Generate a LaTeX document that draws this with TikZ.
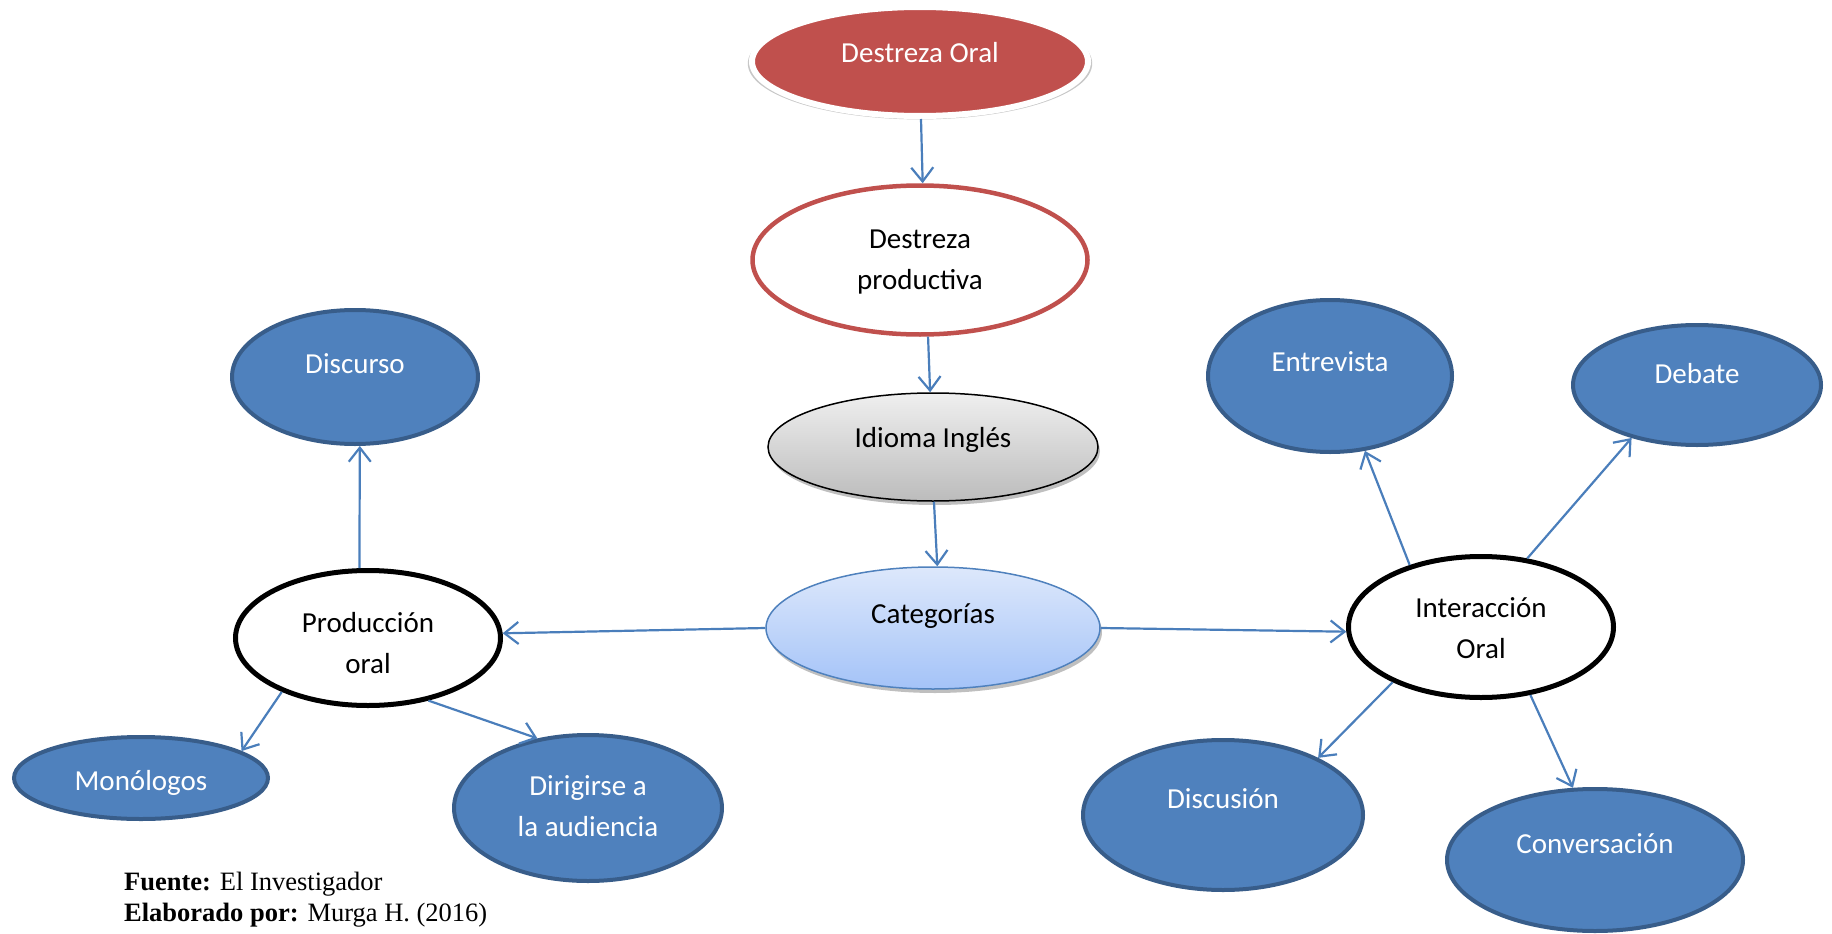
\documentclass[tikz,border=0pt]{standalone}
\usepackage{fontspec}
\setmainfont{Carlito}
\newfontfamily\timesf{Liberation Serif}
\usetikzlibrary{shapes.geometric,arrows.meta,shadows}
\definecolor{nblue}{HTML}{4F81BD}
\definecolor{bblue}{HTML}{385D8A}
\definecolor{ared}{HTML}{C0504D}
\definecolor{arrc}{HTML}{4A7EBB}
\definecolor{catTop}{HTML}{DDE8FB}
\definecolor{catBot}{HTML}{A4C3F8}
\definecolor{greyTop}{HTML}{EFEFEF}
\definecolor{greyBot}{HTML}{BCBCBC}
\begin{document}
\begin{tikzpicture}[x=1pt,y=-1pt,
 ell/.style={ellipse, inner sep=0pt},
 blueell/.style={ell, fill=nblue, draw=bblue, line width=4pt},
 blackell/.style={ell, fill=white, draw=black, line width=5pt},
 soft/.style={drop shadow={shadow xshift=2pt, shadow yshift=-4pt, opacity=.25, fill=black}},
 glow/.style={drop shadow={shadow xshift=0pt, shadow yshift=-2pt, shadow scale=1.025, opacity=.22, fill=black}},
 txt/.style={font=\fontsize{29}{41}\selectfont, anchor=base, inner sep=0pt},
 wtxt/.style={txt, text=white},
 conn/.style={draw=arrc, line width=2.2pt, -{Straight Barb[length=14pt,width=22pt]}},
]
\useasboundingbox (0,0) rectangle (1832,934);

% ellipses
\node[ell, glow, fill=ared, draw=white, line width=6pt, minimum width=336pt, minimum height=109pt] (oral) at (920,61.5) {};
\node[ell, fill=white, draw=ared, line width=4.5pt, minimum width=335pt, minimum height=149pt] (prod) at (920,260) {};
\node[ell, soft, top color=greyTop, bottom color=greyBot, draw=black, line width=1.5pt, minimum width=330pt, minimum height=108pt] (idioma) at (933,447) {};
\node[ell, soft, top color=catTop, bottom color=catBot, draw=nblue, line width=1.5pt, minimum width=334pt, minimum height=122pt] (cat) at (933,628) {};
\node[blackell, minimum width=265pt, minimum height=135pt] (prodoral) at (368,638) {};
\node[blackell, minimum width=265pt, minimum height=141pt] (inter) at (1481,627) {};
\node[blueell, minimum width=246pt, minimum height=134pt] (discurso) at (355,377) {};
\node[blueell, minimum width=254pt, minimum height=82pt] (monologos) at (141,778) {};
\node[blueell, minimum width=268pt, minimum height=146pt] (dirigirse) at (588,808) {};
\node[blueell, minimum width=244pt, minimum height=152pt] (entrevista) at (1330,376) {};
\node[blueell, minimum width=248pt, minimum height=120pt] (debate) at (1697,385) {};
\node[blueell, minimum width=280pt, minimum height=150pt] (discusion) at (1223,815) {};
\node[blueell, minimum width=296pt, minimum height=142pt] (conversacion) at (1595,860) {};

% texts
\node[wtxt] (t-oral) at (920,63) {Destreza Oral};
\node[txt] (t-prod) at (920,248) {\begin{tabular}[t]{@{}c@{}}Destreza\\productiva\end{tabular}};
\node[txt] (t-idioma) at (933,447) {Idioma Inglés};
\node[txt] (t-cat) at (933,623) {Categorías};
\node[txt] (t-prodoral) at (368,632) {\begin{tabular}[t]{@{}c@{}}Producción\\oral\end{tabular}};
\node[txt] (t-inter) at (1481,617) {\begin{tabular}[t]{@{}c@{}}Interacción\\Oral\end{tabular}};
\node[wtxt] (t-discurso) at (355,373) {Discurso};
\node[wtxt] (t-monologos) at (141,790) {Monólogos};
\node[wtxt] (t-dirigirse) at (588,795) {\begin{tabular}[t]{@{}c@{}}Dirigirse a\\la audiencia\end{tabular}};
\node[wtxt] (t-entrevista) at (1330,371) {Entrevista};
\node[wtxt] (t-debate) at (1697,383) {Debate};
\node[wtxt] (t-discusion) at (1223,808) {Discusión};
\node[wtxt] (t-conversacion) at (1595,853) {Conversación};

% connectors
\draw[conn] (oral.-89) -- (prod.88);
\draw[conn] (prod.-84) -- (idioma.93);
\draw[conn] (idioma.-89) -- (cat.86.4);
\draw[conn] (cat.180) -- (prodoral.2.1);
\draw[conn] (cat.0) -- (inter.182);
\draw[conn] (prodoral.97.3) -- (discurso.-86.7);
\draw[conn] (prodoral.212.4) -- (monologos.15.8);
\draw[conn] (prodoral.-46.5) -- (dirigirse.126.7);
\draw[conn] (inter.139.9) -- (entrevista.-65.9);
\draw[conn] (inter.56.1) -- (debate.219.2);
\draw[conn] (inter.212.5) -- (discusion.31.3);
\draw[conn] (inter.-54) -- (conversacion.107.5);

% source
\node[anchor=base west, inner sep=0pt, font=\timesf\fontsize{26.5}{31}\selectfont] (fuente) at (124,890) {\textbf{Fuente:} El Investigador};
\node[anchor=base west, inner sep=0pt, font=\timesf\fontsize{26.5}{31}\selectfont] (elab) at (124,921) {\textbf{Elaborado por:} Murga H. (2016)};
\end{tikzpicture}
\end{document}
